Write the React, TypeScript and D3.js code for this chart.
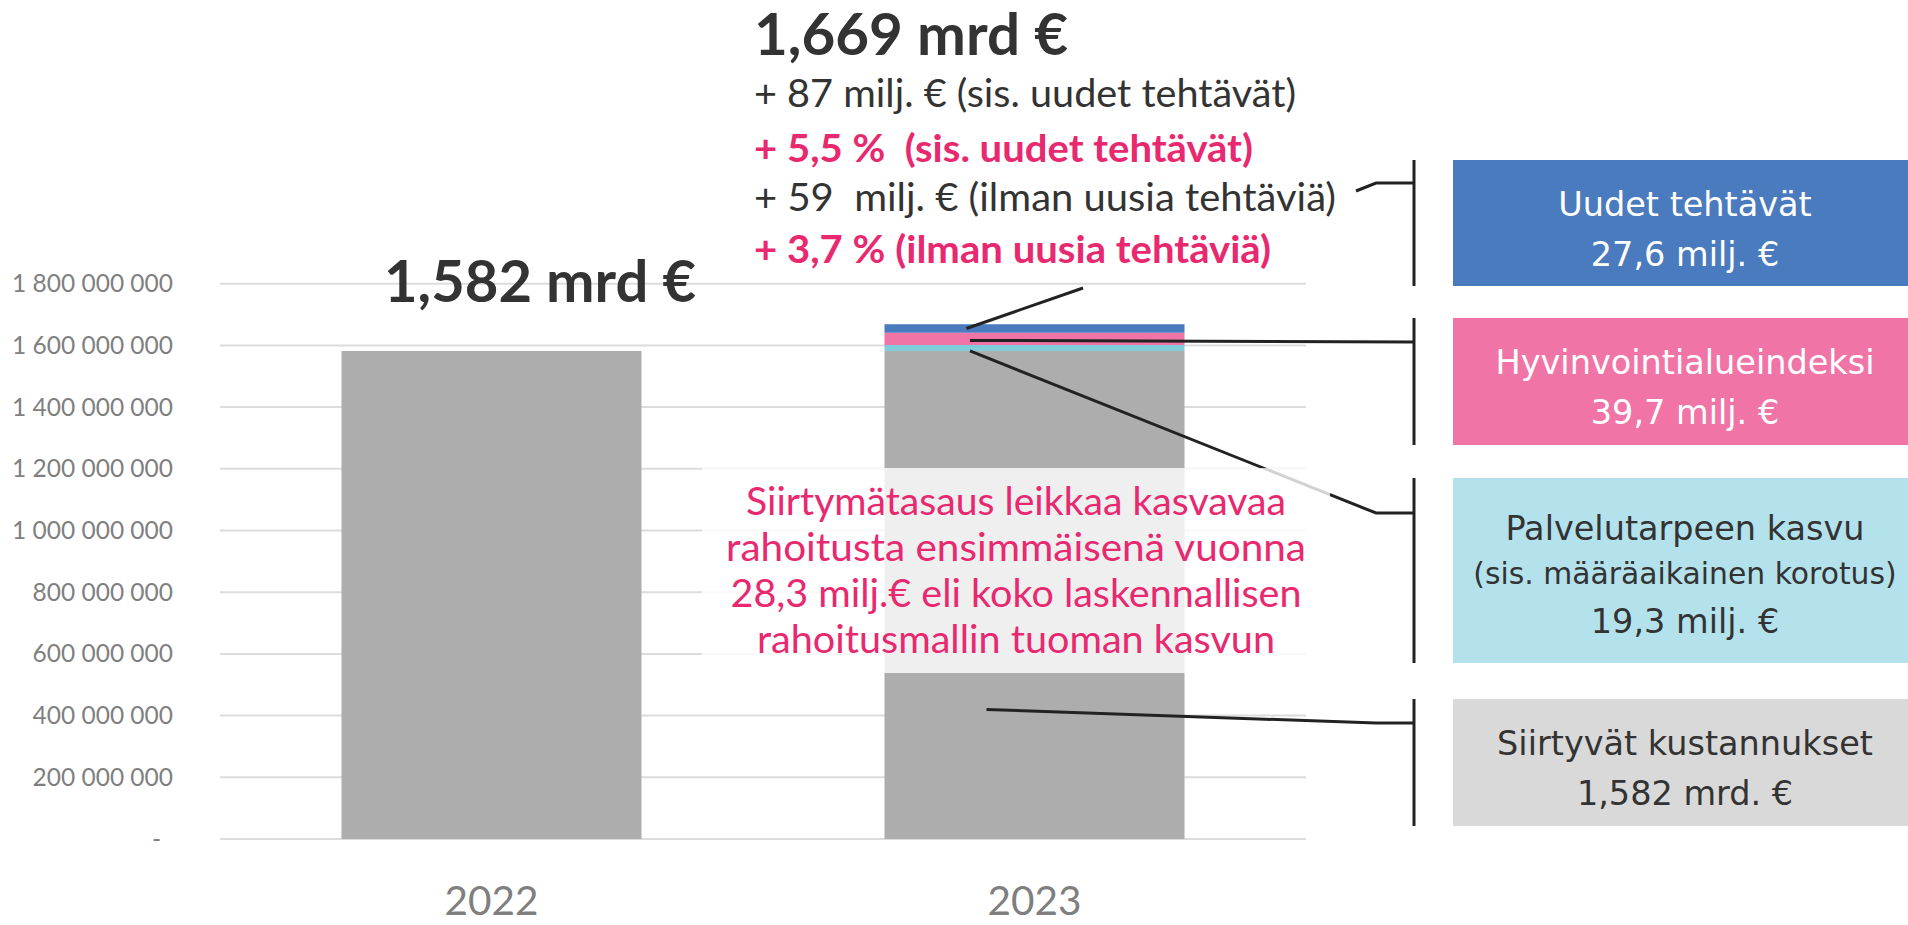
import React from "react";
import * as d3 from "d3";

// ---- data ----
const categories = ["2022", "2023"];
const siirtyvat = [1582e6, 1582e6];
const palvelutarve = [0, 19.3e6];
const indeksi = [0, 39.7e6];
const uudet = [0, 27.6e6];
const seriesKeys = ["siirtyvat", "palvelutarve", "indeksi", "uudet"];
const seriesColors = ["#ADADAD", "#7FCCDB", "#F075A6", "#4A7BBE"];
const yTicks = [0, 2e8, 4e8, 6e8, 8e8, 1e9, 1.2e9, 1.4e9, 1.6e9, 1.8e9];

const topTitle = "1,669 mrd €";
const topLines = [
  { t: "+ 87 milj. € (sis. uudet tehtävät)", bold: false, w: 542 },
  { t: "+ 5,5 %  (sis. uudet tehtävät)", bold: true, w: 499 },
  { t: "+ 59  milj. € (ilman uusia tehtäviä)", bold: false, w: 582 },
  { t: "+ 3,7 % (ilman uusia tehtäviä)", bold: true, w: 517 },
];
const leftTitle = "1,582 mrd €";
const noteLines = [
  { t: "Siirtymätasaus leikkaa kasvavaa", w: 540 },
  { t: "rahoitusta ensimmäisenä vuonna", w: 580 },
  { t: "28,3 milj.€ eli koko laskennallisen", w: 571 },
  { t: "rahoitusmallin tuoman kasvun", w: 518 },
];
const legendBoxes = [
  { lines: ["Uudet tehtävät", "27,6 milj. €"], fill: "#4A7BBE", color: "#FFFFFF" },
  { lines: ["Hyvinvointialueindeksi", "39,7 milj. €"], fill: "#F075A6", color: "#FFFFFF" },
  { lines: ["Palvelutarpeen kasvu", "(sis. määräaikainen korotus)", "19,3 milj. €"], fill: "#B3E2EC", color: "#333333" },
  { lines: ["Siirtyvät kustannukset", "1,582 mrd. €"], fill: "#D9D9D9", color: "#333333" },
];

const W = 1908;
const H = 925;
const CAL = "Lato, 'Open Sans', sans-serif";
const BOXF = "'DejaVu Sans', Verdana, sans-serif";
const DARK = "#333333";
const PINK = "#E8286F";

export default function App() {
  const x = d3
    .scaleBand<string>()
    .domain(categories)
    .range([220, 1306])
    .paddingInner(0.4475)
    .paddingOuter(0.22375);
  const y = d3.scaleLinear().domain([0, 1.8e9]).range([839, 283.7]);

  const rows = categories.map((c, i) => ({
    cat: c,
    siirtyvat: siirtyvat[i],
    palvelutarve: palvelutarve[i],
    indeksi: indeksi[i],
    uudet: uudet[i],
  }));
  const stacked = d3.stack<any>().keys(seriesKeys)(rows);

  const fmt = (v: number) => (v === 0 ? "-" : d3.format(",")(v).replace(/,/g, " "));

  const bw = x.bandwidth();
  const x23 = x("2023")!;
  const s23 = stacked.map((s) => s[1]);
  const mid = (k: number) => y((s23[k][0] + s23[k][1]) / 2);

  // legend geometry
  const boxX = 1453;
  const boxTops = [160, 318, 478, 699];
  const boxBottoms = [286, 445, 663, 826];
  const brX = 1414;

  const leaders = [
    [[x23 + bw * 0.273, mid(3)], [1083, 288]],
    [[x23 + bw * 0.285, mid(2) + 1.5], [brX, 342]],
    [[x23 + bw * 0.285, y(s23[1][0])], [1376, 513], [brX, 513]],
    [[x23 + bw * 0.34, y(420e6)], [1376, 723], [brX, 723]],
    [[1356, 191], [1376, 183], [brX, 183]],
  ];
  const line = d3.line<number[]>().x((d) => d[0]).y((d) => d[1]);

  return (
    <svg width={W} height={H} style={{ position: "absolute", left: 0, top: 0, background: "#fff" }}>
      {yTicks.map((t) => (
        <line key={t} x1={220} x2={1306} y1={y(t)} y2={y(t)} stroke="#DCDCDC" strokeWidth={2} />
      ))}
      {yTicks.map((t) => (
        <text
          key={"l" + t}
          x={t === 0 ? 161 : 173}
          y={y(t) + 8.5}
          textAnchor="end"
          fontFamily={CAL}
          fontSize={24.5}
          fill="#7F7F7F"
        >
          {fmt(t)}
        </text>
      ))}
      {stacked.map((s, si) =>
        s.map((d, i) =>
          d[1] - d[0] > 0 ? (
            <rect
              key={si + "-" + i}
              x={x(categories[i])}
              width={bw}
              y={y(d[1])}
              height={y(d[0]) - y(d[1])}
              fill={seriesColors[si]}
            />
          ) : null
        )
      )}
      {categories.map((c) => (
        <text
          key={c}
          x={x(c)! + bw / 2}
          y={915}
          textAnchor="middle"
          fontFamily={CAL}
          fontSize={40.5}
          fill="#7F7F7F"
        >
          {c}
        </text>
      ))}
      {leaders.map((pts, i) => (
        <path key={"ld" + i} d={line(pts as any)!} fill="none" stroke="#222" strokeWidth={3} />
      ))}
      {boxTops.map((t, i) => (
        <line key={"br" + i} x1={brX} x2={brX} y1={t} y2={boxBottoms[i]} stroke="#222" strokeWidth={3} />
      ))}
      <rect x={702} y={468} width={628} height={205} fill="#FFFFFF" fillOpacity={0.8} />
      {noteLines.map((l, i) => (
        <text
          key={"n" + i}
          x={1016}
          y={515 + i * 46}
          textAnchor="middle"
          fontFamily={CAL}
          fontSize={38}
          fill={PINK}
          textLength={l.w}
          lengthAdjust="spacingAndGlyphs"
        >
          {l.t}
        </text>
      ))}
      <text x={754} y={55} fontFamily={CAL} fontWeight={700} fontSize={57} fill={DARK} textLength={314} lengthAdjust="spacingAndGlyphs">
        {topTitle}
      </text>
      {topLines.map((l, i) => (
        <text
          key={"t" + i}
          x={754}
          y={[107, 162, 211, 263][i]}
          fontFamily={CAL}
          fontWeight={l.bold ? 700 : 400}
          fontSize={38}
          fill={l.bold ? PINK : DARK}
          textLength={l.w}
          lengthAdjust="spacingAndGlyphs"
          style={{ whiteSpace: "pre" }}
        >
          {l.t}
        </text>
      ))}
      <text x={384} y={302} fontFamily={CAL} fontWeight={700} fontSize={57} fill={DARK} textLength={312} lengthAdjust="spacingAndGlyphs">
        {leftTitle}
      </text>
      {legendBoxes.map((b, i) => {
        const ys = b.lines.length === 3 ? [540, 584, 633] : [boxTops[i] + 56, boxTops[i] + 106];
        return (
          <g key={"lb" + i}>
            <rect x={boxX} y={boxTops[i]} width={W - boxX} height={boxBottoms[i] - boxTops[i]} fill={b.fill} />
            {b.lines.map((t, j) => (
              <text
                key={j}
                x={1685}
                y={ys[j]}
                textAnchor="middle"
                fontFamily={BOXF}
                fontSize={b.lines.length === 3 && j === 1 ? 29.8 : 33.5}
                fill={b.color}
              >
                {t}
              </text>
            ))}
          </g>
        );
      })}
    </svg>
  );
}
